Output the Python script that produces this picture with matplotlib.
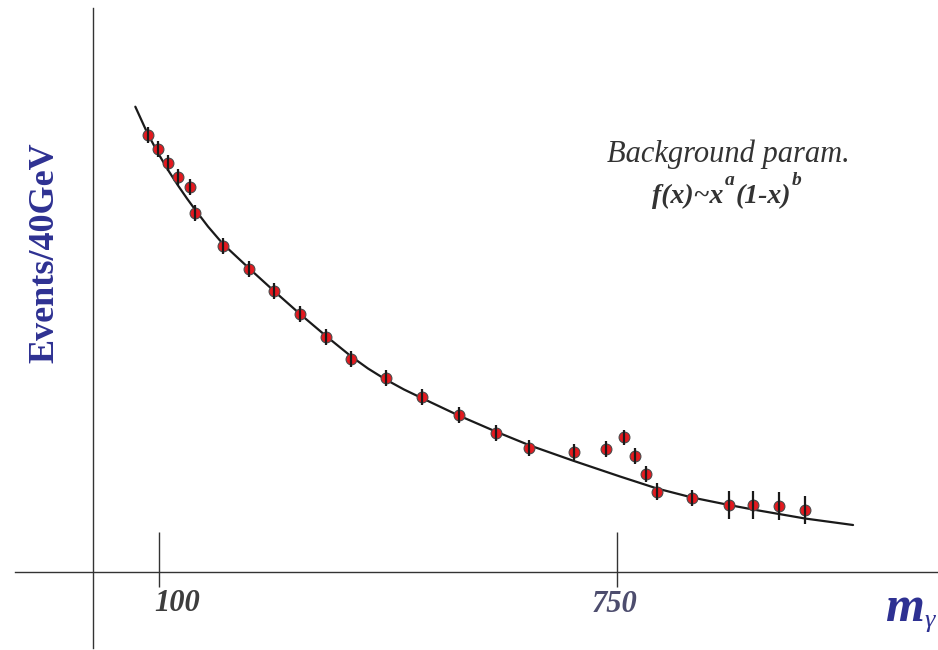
import matplotlib
matplotlib.use("Agg")
import matplotlib.pyplot as plt
from matplotlib.lines import Line2D

# ---------------- data ----------------
mass = [83.7, 98.6, 112.8, 127.0, 143.7, 150.7, 190.8, 227.3, 263.2, 300.1,
        337.0, 372.9, 421.7, 472.8, 525.3, 577.8, 625.5, 688.5, 734.0, 759.5,
        775.5, 791.2, 807.2, 856.0, 909.2, 943.4, 979.5, 1017.3]
events = [437, 422.8, 409.3, 395.3, 385.3, 359.2, 326, 303, 281, 258.1,
          235.3, 212.7, 194.3, 175, 157, 138.7, 124, 120.3, 123.3, 134.7,
          116.5, 98.3, 80.3, 74.2, 67.5, 67, 66, 62]
errors = [8, 8, 8, 8, 8, 8, 8, 8, 8, 8,
          8, 8, 8, 8, 8, 8, 8, 8, 8, 7.5,
          8, 8, 8.5, 8, 14, 14, 14, 14]

bkg_mass = [66.4, 83.4, 98.6, 112.8, 127.0, 139.7, 151.1, 169.5, 190.8, 227.3,
            263.2, 300.1, 337.0, 372.9, 396.6, 421.7, 447.7, 472.8, 525.3, 577.8,
            626.5, 689.0, 754.3, 806.8, 856.5, 909.0, 943.0, 979.9, 1016.8, 1085.0]
bkg_events = [465.3, 439, 419, 402, 386.5, 373.5, 362.5, 345.5, 328, 304,
              281, 258, 236, 215.5, 203.5, 192.5, 182.5, 174, 156.5, 140.5,
              126.5, 111, 95.5, 83.5, 74.5, 67, 62.5, 58, 53.5, 47]

tick_values = [100, 750]
tick_labels = ["100", "750"]

# ---------------- figure ----------------
W, H = 938, 650
fig = plt.figure(figsize=(W / 100, H / 100), dpi=100)
fig.patch.set_facecolor("white")
ax = fig.add_axes([0, 0, 1, 1])
scale = 650.0 / 458.0
ax.set_xlim(100 - 159 * scale, 100 + (W - 159) * scale)
ax.set_ylim(-(H - 572), 572)
ax.axis("off")


def fx(px):
    return px / W


def fy(py):
    return 1 - py / H


# axes lines
ax.add_line(Line2D([fx(15), fx(938)], [fy(572), fy(572)], transform=ax.transAxes,
                   color="#333333", lw=1.0, zorder=1))
ax.add_line(Line2D([fx(92.5), fx(92.5)], [fy(8), fy(648)], transform=ax.transAxes,
                   color="#333333", lw=1.0, zorder=1))

# tick marks
ax.vlines(tick_values, -15, 40, color="#333333", lw=1.0, zorder=1)

serif = "Liberation Serif"
tick_colors = ["#3d3d3d", "#4d4d6e"]
tick_px = [(177, 611), (615, 612)]
for lab, col, (px, py) in zip(tick_labels, tick_colors, tick_px):
    ax.text(fx(px), fy(py), lab, transform=ax.transAxes, ha="center", va="baseline",
            fontsize=22, fontfamily=serif, fontweight="bold", fontstyle="italic",
            color=col)

# background curve
ax.plot(bkg_mass, bkg_events, color="#1a1a1a", lw=1.6, zorder=2,
        solid_joinstyle="round", solid_capstyle="round")

# data points
ax.plot(mass, events, linestyle="none", marker="o", ms=7.8, mfc="#e3191f",
        mec="#4a4a4a", mew=0.8, zorder=3)
ax.errorbar(mass, events, yerr=errors, fmt="none", ecolor="#1a1a1a",
            elinewidth=1.6, capsize=0, zorder=4)

# y label
blue = "#2e3192"
ax.text(fx(45), fy(253), "Events/40GeV", transform=ax.transAxes, rotation=90,
        ha="center", va="center", fontsize=26, fontfamily=serif,
        fontweight="bold", color=blue)

# x label m_gamma
ax.text(fx(885), fy(621), "m", transform=ax.transAxes, ha="left", va="baseline",
        fontsize=36, fontfamily=serif, fontweight="bold", fontstyle="italic",
        color=blue)
ax.text(fx(925), fy(627), "γ", transform=ax.transAxes, ha="left", va="baseline",
        fontsize=19, fontfamily=serif, fontstyle="italic", color=blue)

# annotation
ax.text(fx(728), fy(162), "Background param.", transform=ax.transAxes,
        ha="center", va="baseline", fontsize=22, fontfamily=serif,
        fontstyle="italic", color="#333333")

fig.canvas.draw()
renderer = fig.canvas.get_renderer()
pieces = [("f(x)~x", 20, 203), ("a", 14, 185), ("(1-x)", 20, 203), ("b", 14, 185)]
x_cur = 652
for txt, fs, base in pieces:
    t = ax.text(fx(x_cur), fy(base), txt, transform=ax.transAxes, ha="left",
                va="baseline", fontsize=fs, fontfamily=serif, fontweight="bold",
                fontstyle="italic", color="#333333")
    bb = t.get_window_extent(renderer=renderer)
    x_cur += bb.width + 1

fig.savefig("out.png", dpi=100, facecolor="white")
